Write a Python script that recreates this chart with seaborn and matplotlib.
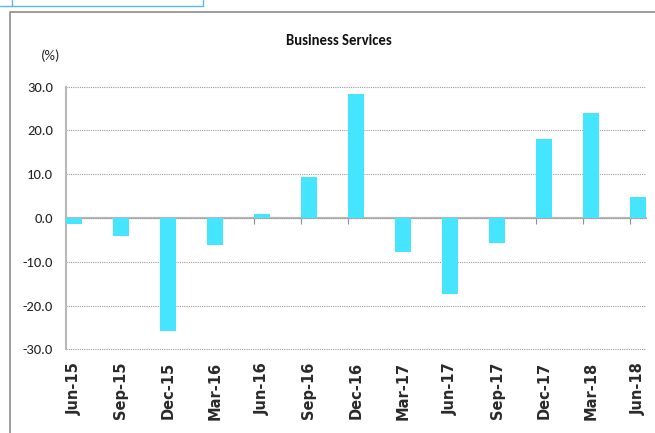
import matplotlib
matplotlib.use("Agg")
import matplotlib.pyplot as plt
from matplotlib import font_manager
from matplotlib.lines import Line2D
import seaborn as sns
import pandas as pd

# Quarterly change in business services (%)
quarters = ["Jun-15", "Sep-15", "Dec-15", "Mar-16", "Jun-16", "Sep-16", "Dec-16",
            "Mar-17", "Jun-17", "Sep-17", "Dec-17", "Mar-18", "Jun-18"]
changes = [-1.4, -4.2, -25.9, -6.2, 0.8, 9.3, 28.3,
           -7.8, -17.4, -5.6, 18.1, 23.9, 4.7]
y_ticks = [-30, -20, -10, 0, 10, 20, 30]
y_tick_labels = ["-30.0", "-20.0", "-10.0", "0.0", "10.0", "20.0", "30.0"]

BAR = "#45E4FF"
BAR_W = 0.334
NARROW = ["Carlito", "Liberation Sans", "DejaVu Sans"]

sns.set_style("white")
plt.rcParams["font.family"] = ["DejaVu Sans"]

# wide bold face for the rotated category labels
wide_bold_path = font_manager.findfont(
    font_manager.FontProperties(family="DejaVu Sans", weight="bold"))
wide_bold = font_manager.FontProperties(fname=wide_bold_path, size=10.5)

df = pd.DataFrame({"quarter": quarters, "change": changes})

fig = plt.figure(figsize=(6.55, 4.33), dpi=100)
ax = fig.add_axes([66 / 655, 1 - 349.3 / 433, 580 / 655, 262.6 / 433])

sns.barplot(data=df, x="quarter", y="change", color=BAR, saturation=1,
            width=BAR_W, linewidth=0, ax=ax, zorder=3)

ax.set_xlim(-BAR_W / 2, len(quarters) - 1 + BAR_W / 2)
ax.set_ylim(-30, 30)
ax.set_xlabel("")
ax.set_ylabel("")

# dotted horizontal gridlines
ax.set_yticks(y_ticks)
ax.set_yticklabels(y_tick_labels, family=NARROW, fontsize=10.5, color="#222222")
ax.yaxis.grid(True, color="#9a9a9a", linestyle=(0, (1, 1)), linewidth=0.8)
for gl in ax.get_ygridlines():
    gl.set_clip_on(False)
ax.set_axisbelow(True)
ax.tick_params(axis="y", length=2.4, width=0.8, color="#a0a0a0", pad=7)

# category labels below the plot, turned on their side
ax.set_xticks(range(len(quarters)))
ax.set_xticklabels(quarters, rotation=90, fontproperties=wide_bold,
                   color="#2a2a2a", va="top", ha="center")
ax.tick_params(axis="x", length=0, pad=9)

for side in ("top", "right", "bottom"):
    ax.spines[side].set_visible(False)
ax.spines["left"].set_color("#b8b8b8")
ax.spines["left"].set_linewidth(1.5)

# zero baseline with category divider ticks
zero_axis = ax.secondary_xaxis(0.5)
zero_axis.set_alignment("bottom")
zero_axis.set_xticks([i - BAR_W / 2 for i in range(len(quarters))])
zero_axis.set_xticklabels([""] * len(quarters))
zero_axis.tick_params(axis="x", direction="out", length=4.5, width=0.8,
                      color="#909090")
zero_axis.spines["bottom"].set_color("#b8b8b8")
zero_axis.spines["bottom"].set_linewidth(1.6)

fig.text(338.5 / 655, 1 - 41 / 433, "Business Services", ha="center",
         va="center", family=NARROW, fontweight="bold", fontsize=10.5,
         color="#111111")
fig.text(51 / 655, 1 - 56 / 433, "(%)", ha="center", va="center",
         family=NARROW, fontsize=10.5, color="#222222")

# outer chart frame and the neighbouring panel edge
frame_x, frame_y = 10 / 655, 1 - 12 / 433
fig.add_artist(Line2D([frame_x, frame_x, 1.0], [0.0, frame_y, frame_y],
                      transform=fig.transFigure, color="#8c8c8c", lw=1.2))
box_y = 1 - 6 / 433
fig.add_artist(Line2D([0.0, 203 / 655, 203 / 655], [box_y, box_y, 1.0],
                      transform=fig.transFigure, color="#5ab8f0", lw=1.0))
fig.add_artist(Line2D([12 / 655, 12 / 655], [box_y, 1.0],
                      transform=fig.transFigure, color="#5ab8f0", lw=1.0))

fig.savefig("out.png", dpi=100)
